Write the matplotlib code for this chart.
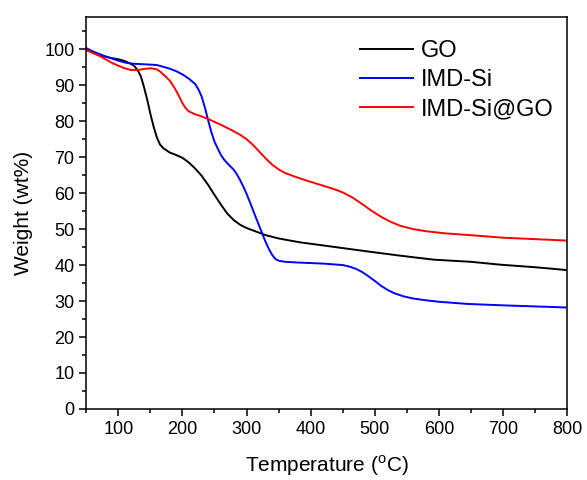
import matplotlib
matplotlib.use("Agg")
import matplotlib.pyplot as plt
from matplotlib.ticker import MultipleLocator

plt.rcParams["font.family"] = ["Liberation Sans", "DejaVu Sans"]
plt.rcParams["mathtext.fontset"] = "custom"
plt.rcParams["mathtext.rm"] = "Liberation Sans"

# TGA curves
go_temp = [50, 60, 70, 80, 90, 100, 110, 120, 125, 130, 135, 140, 145, 150, 155,
           160, 165, 170, 180, 190, 200, 210, 220, 230, 240, 250, 260, 270, 280,
           290, 300, 315, 330, 350, 362, 384, 430, 488, 540, 592, 650, 696, 750, 800]
go_wt = [99.8, 99.0, 98.3, 97.9, 97.5, 97.2, 96.7, 95.9, 95.3, 94.2, 92.5, 89.5,
         86.0, 82.0, 78.5, 75.5, 73.5, 72.5, 71.3, 70.6, 69.8, 68.5, 66.8, 64.8,
         62.3, 59.5, 56.8, 54.3, 52.5, 51.2, 50.3, 49.3, 48.3, 47.4, 47.0, 46.3,
         45.2, 43.8, 42.6, 41.5, 40.9, 40.1, 39.4, 38.6]

si_temp = [50, 60, 70, 80, 90, 100, 110, 120, 140, 160, 180, 190, 200, 210, 220,
           225, 230, 235, 240, 245, 250, 255, 260, 265, 270, 275, 280, 285, 290,
           295, 300, 305, 310, 315, 320, 325, 330, 335, 340, 345, 350, 360, 380,
           420, 450, 460, 470, 480, 490, 500, 510, 520, 530, 545, 560, 580, 600,
           644, 700, 750, 800]
si_wt = [100.3, 99.4, 98.7, 98.0, 97.4, 96.8, 96.3, 96.0, 95.8, 95.6, 94.6, 93.9,
         93.0, 91.8, 90.3, 88.8, 86.8, 83.8, 80.3, 77.0, 74.3, 72.4, 70.6, 69.3,
         68.3, 67.4, 66.5, 65.2, 63.6, 61.8, 59.8, 57.6, 55.3, 53.0, 50.8, 48.5,
         46.3, 44.4, 42.8, 41.7, 41.2, 40.9, 40.7, 40.4, 40.0, 39.6, 39.0, 38.1,
         36.9, 35.6, 34.2, 33.1, 32.2, 31.3, 30.7, 30.2, 29.8, 29.2, 28.8, 28.5,
         28.2]

sigo_temp = [50, 60, 70, 80, 90, 100, 110, 120, 130, 140, 150, 160, 165, 170, 175,
             180, 185, 190, 195, 200, 205, 210, 220, 230, 240, 250, 260, 270, 280,
             290, 300, 310, 320, 330, 340, 350, 360, 375, 395, 415, 435, 450, 465,
             480, 495, 510, 525, 540, 560, 580, 610, 650, 700, 750, 800]
sigo_wt = [99.8, 99.0, 98.2, 97.2, 96.2, 95.4, 94.7, 94.2, 94.2, 94.5, 94.7, 94.4,
           93.8, 93.0, 92.2, 91.3, 90.0, 88.5, 86.8, 85.0, 83.6, 82.7, 81.9, 81.3,
           80.6, 79.8, 79.0, 78.1, 77.2, 76.2, 75.0, 73.4, 71.5, 69.6, 67.9, 66.6,
           65.6, 64.6, 63.4, 62.3, 61.2, 60.2, 58.8, 57.0, 55.1, 53.4, 52.0, 50.9,
           50.0, 49.4, 48.8, 48.3, 47.6, 47.2, 46.8]

labels = ["GO", "IMD-Si", "IMD-Si@GO"]
colors = ["black", "#0000FF", "#FF0000"]

fig = plt.figure(figsize=(5.87, 4.8), dpi=100)
ax = fig.add_axes([0.147, 0.148, 0.819, 0.817])

for t, w, lab, c in zip([go_temp, si_temp, sigo_temp], [go_wt, si_wt, sigo_wt],
                        labels, colors):
    ax.plot(t, w, color=c, lw=1.4, label=lab)

ax.set_xlim(50, 800)
ax.set_ylim(0, 109)
ax.xaxis.set_major_locator(MultipleLocator(100))
ax.xaxis.set_minor_locator(MultipleLocator(50))
ax.yaxis.set_major_locator(MultipleLocator(10))
ax.yaxis.set_minor_locator(MultipleLocator(5))
ax.tick_params(which="both", direction="out", top=False, right=False,
               width=1.1, labelsize=13)
ax.tick_params(which="major", length=5)
ax.tick_params(which="minor", length=3)
for s in ax.spines.values():
    s.set_linewidth(1.1)

ax.set_xlabel(r"Temperature ($^{\rm o}$C)", fontsize=15, labelpad=11)
ax.set_ylabel("Weight (wt%)", fontsize=15, labelpad=8)

ax.legend(loc="upper left", frameon=False, fontsize=17, handlelength=2.25,
          handletextpad=0.3, labelspacing=0.3, borderpad=0, borderaxespad=0,
          bbox_to_anchor=(0.57, 0.94))

fig.savefig("out.png", dpi=100)
